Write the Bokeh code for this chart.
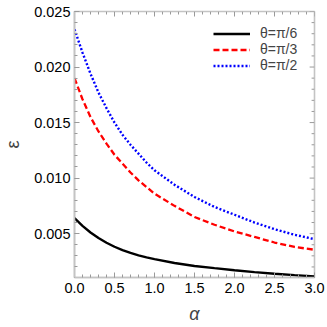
from bokeh.plotting import figure
from bokeh.models import Legend, LegendItem, Range1d, FixedTicker, CustomJSTickFormatter
from bokeh.embed import file_html
from bokeh.resources import INLINE

alpha = [0, 0.1, 0.2, 0.3, 0.4, 0.5, 0.6, 0.7, 0.8, 0.9, 1.0, 1.25, 1.5, 1.75, 2.0, 2.25, 2.5, 2.75, 3.0]
eps_pi6 = [0.0064, 0.0057, 0.0051, 0.0046, 0.00418, 0.00382, 0.00352, 0.00326, 0.00304, 0.00286,
           0.00270, 0.00236, 0.00209, 0.00189, 0.00170, 0.00153, 0.00139, 0.00126, 0.00114]
eps_pi3 = [0.0190, 0.0171, 0.0155, 0.0142, 0.0131, 0.0121, 0.0113, 0.0105, 0.0098, 0.0092,
           0.0086, 0.0075, 0.0065, 0.0058, 0.0052, 0.0047, 0.0042, 0.0038, 0.00355]
eps_pi2 = [0.0234, 0.0213, 0.0194, 0.0177, 0.0163, 0.0150, 0.0139, 0.0130, 0.0122, 0.0114,
           0.0107, 0.0094, 0.0083, 0.0074, 0.0067, 0.0060, 0.0054, 0.0049, 0.0045]
labels = ["θ=π/6", "θ=π/3", "θ=π/2"]
x_ticks = [0.0, 0.5, 1.0, 1.5, 2.0, 2.5, 3.0]
y_ticks = [0.005, 0.010, 0.015, 0.020, 0.025]
x_minor = [i / 10 for i in range(31)]
y_minor = [i / 1000 for i in range(2, 26)]

FONT = "Liberation Sans"
AXC = "#c4c4c4"
TKC = "#9a9a9a"
X0, X1, Y0, Y1 = 0.0, 3.0, 0.00105, 0.025
FW, FH = 247, 266

p = figure(width=327, height=327, output_backend="svg", toolbar_location=None,
           x_range=Range1d(X0, X1), y_range=Range1d(Y0, Y1),
           min_border_left=67, min_border_right=13, min_border_top=11, min_border_bottom=50,
           x_axis_label="α", y_axis_label="ε")
p.grid.visible = False
p.outline_line_color = AXC
p.outline_line_width = 1.6
p.background_fill_color = "white"
p.border_fill_color = "white"

r1 = p.line(alpha, eps_pi6, line_color="black", line_width=2.4)
r2 = p.line(alpha, eps_pi3, line_color="red", line_width=2.3, line_dash="6 3")
r3 = p.line(alpha, eps_pi2, line_color="blue", line_width=2.4, line_dash="2 2")

# tick marks on the top and right frame edges
dy_maj = 5 * (Y1 - Y0) / FH
dy_min = 3 * (Y1 - Y0) / FH
dx_maj = 5 * (X1 - X0) / FW
dx_min = 3 * (X1 - X0) / FW
tx = [t for t in x_minor]
tl = [dy_maj if any(abs(t - m) < 1e-9 for m in x_ticks) else dy_min for t in tx]
p.segment(x0=tx, y0=[Y1] * len(tx), x1=tx, y1=[Y1 - d for d in tl], line_color=TKC, line_width=1)
ty = [t for t in y_minor]
tlx = [dx_maj if any(abs(t - m) < 1e-9 for m in y_ticks) else dx_min for t in ty]
p.segment(x0=[X1] * len(ty), y0=ty, x1=[X1 - d for d in tlx], y1=ty, line_color=TKC, line_width=1)

p.xaxis.ticker = FixedTicker(ticks=x_ticks, minor_ticks=x_minor)
p.yaxis.ticker = FixedTicker(ticks=y_ticks, minor_ticks=y_minor)
p.xaxis.formatter = CustomJSTickFormatter(code="return tick.toFixed(1);")
p.yaxis.formatter = CustomJSTickFormatter(code="return tick.toFixed(3);")
for ax in (p.xaxis[0], p.yaxis[0]):
    ax.axis_line_color = AXC
    ax.axis_line_width = 1.6
    ax.major_tick_line_color = TKC
    ax.minor_tick_line_color = TKC
    ax.major_tick_in = 5
    ax.major_tick_out = 0
    ax.minor_tick_in = 3
    ax.minor_tick_out = 0
    ax.major_label_text_font = FONT
    ax.major_label_text_font_size = "14.5px"
    ax.major_label_text_color = "black"
    ax.axis_label_text_font = FONT
    ax.axis_label_text_font_size = "18px"
    ax.axis_label_standoff = 8
p.xaxis.major_label_standoff = 5
p.yaxis.major_label_standoff = 4
p.xaxis.axis_label_text_font_style = "italic"
p.yaxis.axis_label_text_font_style = "normal"

legend = Legend(items=[LegendItem(label=labels[0], renderers=[r1]),
                       LegendItem(label=labels[1], renderers=[r2]),
                       LegendItem(label=labels[2], renderers=[r3])],
                location=(139, 204))
legend.background_fill_alpha = 0
legend.border_line_color = None
legend.padding = 0
legend.margin = 0
legend.spacing = 0
legend.glyph_width = 37
legend.glyph_height = 15
legend.label_height = 15
legend.label_standoff = 10
legend.label_text_font = FONT
legend.label_text_font_size = "14px"
legend.label_text_baseline = "middle"
p.add_layout(legend, "center")

open("out.html", "w").write(file_html(p, INLINE))
